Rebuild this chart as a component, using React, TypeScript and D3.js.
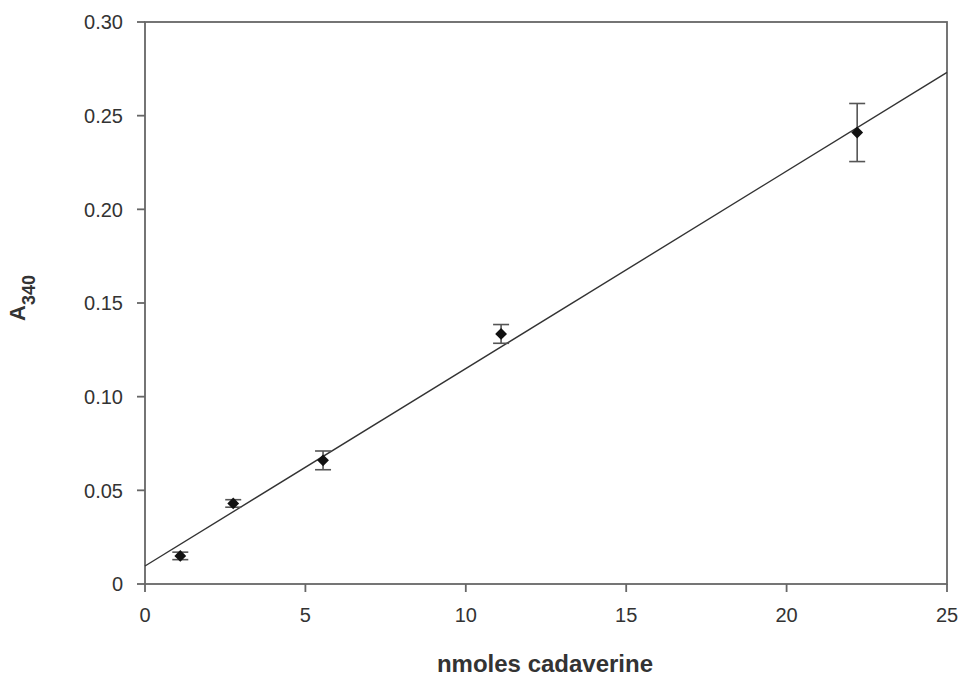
import React from 'react';
import * as d3 from 'd3';

// measured points (nmoles cadaverine vs A340)
const nmoles = [1.1, 2.75, 5.55, 11.1, 22.2];
const absorbance = [0.015, 0.043, 0.066, 0.1335, 0.241];
const errors = [0.002, 0.002, 0.005, 0.005, 0.0155];
// linear fit
const fitIntercept = 0.0096;
const fitSlope = 0.01054;
const xTicks = [0, 5, 10, 15, 20, 25];
const yTicks = [0, 0.05, 0.1, 0.15, 0.2, 0.25, 0.3];

const width = 961;
const height = 678;
const margin = { top: 22, right: 14, bottom: 94, left: 145 };

const App = () => {
  const innerW = width - margin.left - margin.right;
  const innerH = height - margin.top - margin.bottom;

  const x = d3.scaleLinear().domain([0, 25]).range([0, innerW]);
  const y = d3.scaleLinear().domain([0, 0.3]).range([innerH, 0]);

  const fitLine = d3.line<number>()
    .x((d) => x(d))
    .y((d) => y(fitIntercept + fitSlope * d));

  const font = '"Liberation Sans", Arial, sans-serif';
  const axisColor = '#666';
  // square turned 45 degrees -> even diamond
  const diamond = d3.symbol().type(d3.symbolSquare).size(70)() as string;

  return (
    <svg width={width} height={height} style={{ position: 'absolute', left: 0, top: 0 }}>
      <rect width={width} height={height} fill="#fff" />
      <g transform={`translate(${margin.left},${margin.top})`} fontFamily={font}>
        {/* frame */}
        <rect x={0} y={0} width={innerW} height={innerH} fill="none" stroke={axisColor} strokeWidth={1.8} />

        {/* y ticks */}
        {yTicks.map((t) => (
          <g key={'y' + t} transform={`translate(0,${y(t)})`}>
            <line x1={-8} x2={0} stroke={axisColor} strokeWidth={1.8} />
            <text x={-22} dy="0.36em" textAnchor="end" fontSize={20} fill="#333">
              {t === 0 ? '0' : d3.format('.2f')(t)}
            </text>
          </g>
        ))}

        {/* x ticks */}
        {xTicks.map((t) => (
          <g key={'x' + t} transform={`translate(${x(t)},${innerH})`}>
            <line y1={0} y2={8} stroke={axisColor} strokeWidth={1.8} />
            <text y={38} textAnchor="middle" fontSize={20} fill="#333">{t}</text>
          </g>
        ))}

        {/* regression line */}
        <path d={fitLine([0, 25]) as string} fill="none" stroke="#333" strokeWidth={1.4} />

        {/* error bars */}
        {nmoles.map((n, i) => {
          const top = y(absorbance[i] + errors[i]);
          const bot = y(absorbance[i] - errors[i]);
          const cx = x(n);
          return (
            <g key={'e' + i} stroke="#555" strokeWidth={1.6}>
              <line x1={cx} x2={cx} y1={top} y2={bot} />
              <line x1={cx - 8} x2={cx + 8} y1={top} y2={top} />
              <line x1={cx - 8} x2={cx + 8} y1={bot} y2={bot} />
            </g>
          );
        })}

        {/* markers */}
        {nmoles.map((n, i) => (
          <path key={'p' + i} d={diamond} transform={`translate(${x(n)},${y(absorbance[i])}) rotate(45)`} fill="#111" />
        ))}

        {/* axis titles */}
        <text x={innerW / 2 - 1} y={innerH + 88} textAnchor="middle" fontSize={24} fontWeight="bold" fill="#333">
          nmoles cadaverine
        </text>
        <text transform={`translate(${-120},${276}) rotate(-90)`} textAnchor="middle" fontSize={22} fontWeight="bold" fill="#333">
          A<tspan fontSize={18} dy={10}>340</tspan>
        </text>
      </g>
    </svg>
  );
};

export default App;
